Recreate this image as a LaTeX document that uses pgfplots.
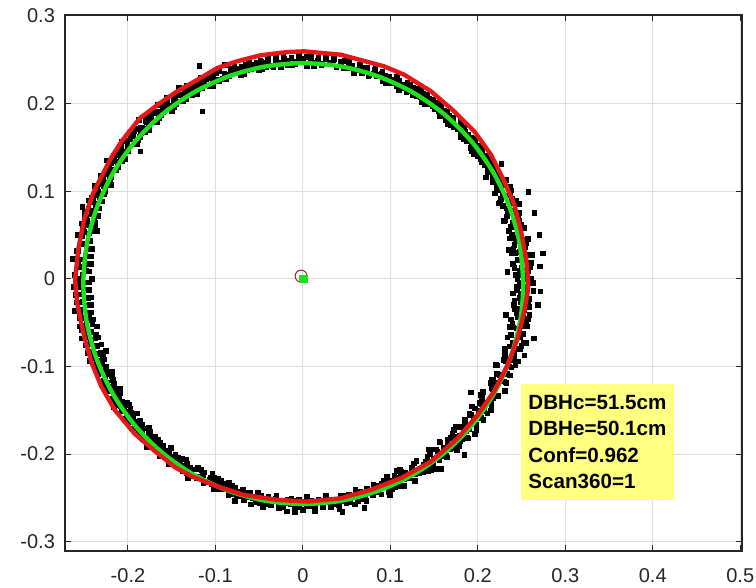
\documentclass[border=0pt]{standalone}
\usepackage{fontspec}
\setmainfont{Liberation Sans}
\usepackage{pgfplots}
\usepackage{pgfplotstable}
\pgfplotsset{compat=1.18}

\definecolor{axgray}{rgb}{0.15,0.15,0.15}
\definecolor{fitred}{RGB}{228,24,24}
\definecolor{fitgreen}{RGB}{30,225,30}
\definecolor{boxyellow}{RGB}{255,255,128}
\definecolor{gridgray}{RGB}{223,223,223}

% stem slice: scan points, angle (deg) and three ranges (m) from the scanner
\pgfplotstableread[row sep=\\]{
a r1 r2 r3\\
0 .255 .245 .261\\ 1 .243 .254 .246\\ 2 .258 .248 .256\\ 3 .250 .260 .242\\ 4 .261 .241 .259\\ 5 .246 .255 .249\\ 6 .252 .259 .263\\ 7 .241 .250 .244\\ 8 .255 .243 .257\\ 9 .258 .252 .245\\
10 .247 .261 .260\\ 11 .251 .245 .241\\ 12 .244 .254 .254\\ 13 .259 .242 .260\\ 14 .248 .257 .245\\ 15 .256 .248 .255\\ 16 .239 .256 .241\\ 17 .252 .244 .258\\ 18 .246 .252 .248\\ 19 .261 .247 .262\\
20 .253 .259 .243\\ 21 .241 .240 .256\\ 22 .256 .254 .244\\ 23 .248 .257 .258\\ 24 .259 .248 .240\\ 25 .246 .245 .252\\ 26 .250 .249 .258\\ 27 .244 .253 .243\\ 28 .250 .246 .253\\ 29 .252 .250 .239\\
30 .246 .244 .253\\ 31 .248 .251 .247\\ 32 .245 .247 .255\\ 33 .252 .250 .244\\ 34 .247 .245 .252\\ 35 .250 .249 .244\\ 36 .242 .246 .253\\ 37 .248 .252 .242\\ 38 .245 .243 .250\\ 39 .252 .249 .254\\
40 .249 .251 .245\\ 41 .243 .247 .251\\ 42 .250 .244 .242\\ 43 .247 .248 .252\\ 44 .251 .252 .246\\ 45 .244 .245 .255\\ 46 .247 .248 .243\\ 47 .242 .243 .251\\ 48 .249 .250 .244\\ 49 .250 .246 .252\\
50 .247 .251 .243\\ 51 .249 .246 .251\\ 52 .245 .250 .255\\ 53 .252 .247 .246\\ 54 .247 .253 .252\\ 55 .251 .244 .243\\ 56 .243 .250 .254\\ 57 .249 .252 .247\\ 58 .246 .248 .256\\ 59 .253 .245 .244\\
60 .250 .248 .252\\ 61 .244 .253 .245\\ 62 .251 .246 .254\\ 63 .248 .249 .242\\ 64 .252 .244 .251\\ 65 .246 .251 .254\\ 66 .249 .247 .245\\ 67 .243 .250 .251\\ 68 .250 .245 .243\\ 69 .251 .249 .253\\
70 .246 .247 .247\\ 71 .248 .252 .255\\ 72 .245 .243 .244\\ 73 .252 .250 .252\\ 74 .247 .251 .244\\ 75 .250 .247 .253\\ 76 .243 .244 .242\\ 77 .249 .248 .250\\ 78 .246 .252 .254\\ 79 .253 .245 .245\\
80 .250 .251 .252\\ 81 .244 .245 .244\\ 82 .252 .253 .254\\ 83 .248 .247 .248\\ 84 .254 .252 .256\\ 85 .246 .245 .245\\ 86 .249 .250 .253\\ 87 .243 .247 .245\\ 88 .251 .253 .254\\ 89 .253 .243 .243\\
90 .247 .250 .251\\ 91 .249 .253 .255\\ 92 .245 .248 .246\\ 93 .253 .244 .252\\ 94 .247 .249 .244\\ 95 .252 .254 .254\\ 96 .243 .246 .248\\ 97 .250 .251 .256\\ 98 .246 .244 .245\\ 99 .255 .252 .253\\
100 .250 .247 .245\\ 101 .244 .252 .254\\ 102 .252 .245 .243\\ 103 .248 .250 .251\\ 104 .254 .247 .255\\ 105 .246 .253 .246\\ 106 .249 .243 .252\\ 107 .243 .251 .244\\ 108 .251 .253 .254\\ 109 .253 .248 .248\\
110 .248 .246 .260\\ 111 .250 .251 .244\\ 112 .246 .255 .255\\ 113 .255 .247 .245\\ 114 .249 .252 .257\\ 115 .253 .245 .242\\ 116 .244 .254 .253\\ 117 .251 .249 .258\\ 118 .248 .253 .246\\ 119 .256 .247 .254\\
120 .252 .251 .243\\ 121 .245 .249 .257\\ 122 .254 .255 .249\\ 123 .250 .245 .260\\ 124 .256 .253 .245\\ 125 .247 .255 .255\\ 126 .251 .250 .246\\ 127 .245 .246 .258\\ 128 .253 .251 .243\\ 129 .255 .256 .254\\
130 .249 .248 .259\\ 131 .251 .253 .247\\ 132 .247 .246 .255\\ 133 .256 .254 .244\\ 134 .250 .249 .258\\ 135 .254 .253 .250\\ 136 .245 .247 .261\\ 137 .252 .253 .246\\ 138 .249 .250 .256\\ 139 .257 .256 .247\\
140 .253 .246 .259\\ 141 .247 .254 .244\\ 142 .255 .256 .255\\ 143 .251 .250 .260\\ 144 .257 .247 .248\\ 145 .249 .252 .256\\ 146 .252 .258 .245\\ 147 .246 .249 .258\\ 148 .254 .253 .250\\ 149 .256 .247 .262\\
150 .250 .256 .247\\ 151 .252 .251 .257\\ 152 .249 .255 .248\\ 153 .257 .248 .260\\ 154 .251 .254 .244\\ 155 .255 .251 .256\\ 156 .247 .257 .261\\ 157 .254 .247 .249\\ 158 .250 .255 .257\\ 159 .259 .257 .246\\
160 .256 .252 .261\\ 161 .246 .247 .251\\ 162 .258 .253 .265\\ 163 .252 .261 .245\\ 164 .260 .248 .258\\ 165 .248 .255 .246\\ 166 .253 .245 .261\\ 167 .244 .258 .242\\ 168 .256 .250 .256\\ 169 .258 .257 .262\\
170 .249 .247 .247\\ 171 .252 .254 .257\\ 172 .246 .249 .243\\ 173 .259 .260 .260\\ 174 .250 .244 .250\\ 175 .256 .255 .264\\ 176 .243 .258 .245\\ 177 .253 .251 .258\\ 178 .248 .245 .246\\ 179 .261 .252 .260\\
180 .254 .260 .241\\ 181 .244 .247 .256\\ 182 .257 .254 .262\\ 183 .251 .245 .247\\ 184 .260 .257 .257\\ 185 .247 .250 .243\\ 186 .253 .256 .260\\ 187 .244 .246 .250\\ 188 .255 .254 .264\\ 189 .258 .249 .245\\
190 .248 .259 .258\\ 191 .252 .244 .246\\ 192 .246 .255 .261\\ 193 .259 .258 .242\\ 194 .250 .251 .256\\ 195 .256 .245 .262\\ 196 .243 .252 .247\\ 197 .253 .260 .256\\ 198 .248 .247 .242\\ 199 .260 .254 .259\\
200 .253 .246 .250\\ 201 .245 .254 .261\\ 202 .254 .250 .245\\ 203 .250 .253 .256\\ 204 .256 .247 .246\\ 205 .248 .252 .258\\ 206 .251 .249 .243\\ 207 .245 .255 .254\\ 208 .253 .246 .259\\ 209 .255 .253 .247\\
210 .249 .256 .255\\ 211 .251 .250 .244\\ 212 .247 .248 .258\\ 213 .256 .252 .250\\ 214 .250 .257 .261\\ 215 .254 .248 .246\\ 216 .245 .253 .256\\ 217 .252 .247 .247\\ 218 .249 .255 .259\\ 219 .258 .250 .244\\
220 .253 .255 .255\\ 221 .247 .248 .260\\ 222 .255 .253 .248\\ 223 .251 .250 .256\\ 224 .257 .256 .245\\ 225 .249 .247 .259\\ 226 .253 .254 .251\\ 227 .247 .256 .262\\ 228 .255 .252 .247\\ 229 .256 .248 .257\\
230 .250 .253 .248\\ 231 .252 .258 .260\\ 232 .249 .250 .245\\ 233 .257 .254 .256\\ 234 .251 .248 .261\\ 235 .256 .257 .249\\ 236 .247 .251 .257\\ 237 .254 .256 .246\\ 238 .250 .249 .259\\ 239 .259 .253 .251\\
240 .255 .251 .263\\ 241 .248 .258 .247\\ 242 .256 .247 .258\\ 243 .252 .255 .248\\ 244 .258 .257 .260\\ 245 .250 .253 .245\\ 246 .254 .249 .256\\ 247 .248 .253 .261\\ 248 .256 .259 .249\\ 249 .257 .250 .257\\
250 .252 .255 .247\\ 251 .254 .250 .261\\ 252 .251 .258 .253\\ 253 .259 .254 .265\\ 254 .255 .258 .250\\ 255 .258 .253 .261\\ 256 .251 .257 .252\\ 257 .257 .255 .264\\ 258 .254 .260 .249\\ 259 .261 .252 .260\\
260 .258 .259 .265\\ 261 .252 .260 .253\\ 262 .259 .256 .261\\ 263 .255 .253 .249\\ 264 .261 .257 .263\\ 265 .254 .262 .255\\ 266 .257 .253 .266\\ 267 .252 .258 .251\\ 268 .258 .253 .261\\ 269 .260 .259 .252\\
270 .255 .256 .264\\ 271 .257 .259 .249\\ 272 .253 .254 .260\\ 273 .261 .257 .265\\ 274 .255 .256 .253\\ 275 .259 .260 .261\\ 276 .251 .252 .249\\ 277 .258 .259 .263\\ 278 .254 .260 .255\\ 279 .261 .256 .266\\
280 .258 .253 .251\\ 281 .252 .257 .261\\ 282 .259 .261 .252\\ 283 .256 .254 .264\\ 284 .261 .258 .248\\ 285 .254 .252 .260\\ 286 .256 .259 .264\\ 287 .251 .254 .252\\ 288 .257 .258 .259\\ 289 .258 .252 .248\\
290 .251 .256 .262\\ 291 .254 .250 .252\\ 292 .248 .262 .266\\ 293 .261 .245 .247\\ 294 .252 .258 .260\\ 295 .259 .261 .248\\ 296 .244 .253 .263\\ 297 .256 .247 .244\\ 298 .250 .255 .258\\ 299 .264 .263 .264\\
300 .257 .249 .249\\ 301 .246 .256 .259\\ 302 .260 .245 .245\\ 303 .253 .259 .262\\ 304 .263 .252 .252\\ 305 .248 .259 .265\\ 306 .254 .247 .246\\ 307 .244 .255 .259\\ 308 .257 .250 .247\\ 309 .260 .261 .262\\
310 .251 .244 .243\\ 311 .253 .257 .257\\ 312 .247 .260 .263\\ 313 .261 .252 .248\\ 314 .251 .246 .258\\ 315 .258 .254 .244\\ 316 .243 .262 .261\\ 317 .255 .248 .251\\ 318 .249 .256 .265\\ 319 .263 .245 .246\\
320 .256 .259 .259\\ 321 .245 .251 .247\\ 322 .259 .258 .262\\ 323 .251 .246 .242\\ 324 .261 .254 .256\\ 325 .247 .249 .262\\ 326 .253 .260 .247\\ 327 .243 .244 .257\\ 328 .256 .257 .243\\ 329 .259 .260 .260\\
330 .249 .251 .250\\ 331 .252 .245 .264\\ 332 .246 .253 .245\\ 333 .260 .261 .258\\ 334 .250 .247 .246\\ 335 .257 .255 .261\\ 336 .241 .243 .242\\ 337 .254 .259 .256\\ 338 .248 .250 .262\\ 339 .263 .258 .247\\
340 .256 .246 .257\\ 341 .244 .255 .244\\ 342 .259 .249 .261\\ 343 .252 .261 .251\\ 344 .263 .243 .265\\ 345 .247 .257 .246\\ 346 .254 .260 .259\\ 347 .243 .251 .247\\ 348 .257 .245 .262\\ 349 .260 .254 .242\\
350 .249 .262 .256\\ 351 .252 .247 .262\\ 352 .245 .255 .247\\ 353 .261 .243 .257\\ 354 .250 .259 .243\\ 355 .257 .249 .260\\ 356 .241 .256 .250\\ 357 .254 .245 .264\\ 358 .247 .253 .245\\ 359 .263 .248 .258\\
}\ring

% isolated returns away from the stem surface
\pgfplotstableread[row sep=\\]{
a r\\
2 .234\\ 3 .271\\ 6 .276\\ 8 .238\\ 10.5 .275\\ 15.8 .275\\ 21 .276\\ 30 .262\\
116 .270\\ 121 .223\\ 142 .236\\ 175.8 .273\\ 181 .273\\ 200 .240\\
268 .266\\ 279.6 .270\\ 285 .271\\ 306 .268\\ 306.5 .242\\ 312.5 .273\\ 326 .232\\
341 .268\\ 345.6 .273\\ 350 .236\\ 353.7 .270\\ 357 .272\\
}\stray

\begin{document}
\begin{tikzpicture}
\begin{axis}[
  scale only axis,
  width=338.5pt, height=268pt,
  xmin=-0.272, xmax=0.502, ymin=-0.3106, ymax=0.301,
  xtick={-0.2,-0.1,0,0.1,0.2,0.3,0.4,0.5},
  ytick={-0.3,-0.2,-0.1,0,0.1,0.2,0.3},
  grid=major,
  major grid style={gridgray, line width=0.5pt},
  tick align=inside,
  major tick length=3pt,
  tick style={axgray, line width=0.5pt},
  axis line style={axgray, line width=0.6pt},
  clip marker paths=true,
  /pgf/number format/assume math mode=true,
  ticklabel style={font=\fontsize{10}{12}\selectfont, text=axgray},
  xticklabel style={yshift=-5pt},
  yticklabel style={xshift=-1.5pt},
  scan/.style={only marks, data cs=polar, mark=square*, mark size=1.15pt,
    mark options={draw=black, fill=black}},
]

% scan points
\addplot[scan] table[x=a, y=r1] {\ring};
\addplot[scan] table[x=a, y=r2] {\ring};
\addplot[scan] table[x=a, y=r3] {\ring};
\addplot[scan] table[x=a, y=r] {\stray};

% fitted circle (green)
\addplot[fitgreen, line width=2.2pt, smooth, no marks] coordinates {
(0.2520,-0.0055) (0.2482,0.0382) (0.2368,0.0805) (0.2183,0.1203) (0.1932,0.1562)
(0.1622,0.1872) (0.1263,0.2123) (0.0865,0.2308) (0.0442,0.2422) (0.0005,0.2460)
(-0.0432,0.2422) (-0.0855,0.2308) (-0.1253,0.2123) (-0.1612,0.1872) (-0.1922,0.1562)
(-0.2173,0.1203) (-0.2358,0.0805) (-0.2472,0.0382) (-0.2510,-0.0055) (-0.2472,-0.0492)
(-0.2358,-0.0915) (-0.2173,-0.1313) (-0.1922,-0.1672) (-0.1612,-0.1982) (-0.1253,-0.2233)
(-0.0855,-0.2418) (-0.0432,-0.2532) (0.0005,-0.2570) (0.0442,-0.2532) (0.0865,-0.2418)
(0.1263,-0.2233) (0.1622,-0.1982) (0.1932,-0.1672) (0.2183,-0.1313) (0.2368,-0.0915)
(0.2482,-0.0492) (0.2520,-0.0055) (0.2482,0.0382)
};

% outline traced along the points (red)
\addplot[fitred, line width=2.2pt, line join=round, no marks] coordinates {
(0.2577,-0.0031) (0.2551,0.0235) (0.2494,0.0540) (0.2417,0.0845) (0.2302,0.1111)
(0.2150,0.1416) (0.1959,0.1682) (0.1730,0.1910) (0.1463,0.2140) (0.1157,0.2329)
(0.0928,0.2424) (0.0432,0.2557) (0.0011,0.2595) (-0.0179,0.2587) (-0.0485,0.2550)
(-0.0751,0.2482) (-0.0981,0.2404) (-0.1172,0.2290) (-0.1439,0.2138) (-0.1634,0.2005)
(-0.1863,0.1833) (-0.2068,0.1575) (-0.2190,0.1384) (-0.2295,0.1183) (-0.2401,0.0969)
(-0.2500,0.0679) (-0.2567,0.0347) (-0.2604,-0.0011) (-0.2584,-0.0259) (-0.2538,-0.0487)
(-0.2493,-0.0684) (-0.2418,-0.0953) (-0.2306,-0.1225) (-0.2152,-0.1495) (-0.1924,-0.1767)
(-0.1695,-0.1965) (-0.1459,-0.2153) (-0.1261,-0.2259) (-0.0987,-0.2366) (-0.0676,-0.2466)
(-0.0293,-0.2523) (0.0050,-0.2542) (0.0432,-0.2505) (0.0775,-0.2409) (0.1119,-0.2276)
(0.1463,-0.2086) (0.1769,-0.1820) (0.1998,-0.1553) (0.2188,-0.1282) (0.2341,-0.0982)
(0.2456,-0.0678) (0.2531,-0.0373) (0.2570,-0.0145) (0.2577,-0.0031) (0.2551,0.0235)
};

% centres
\addplot[only marks, mark=o, mark size=3pt,
  mark options={draw=fitred!85!black, line width=0.5pt}] coordinates {(-0.002,0.003)};
\addplot[only marks, mark=square*, mark size=1.8pt,
  mark options={draw=fitgreen, fill=fitgreen}] coordinates {(0.0005,-0.0005)};

\node[anchor=north west, fill=boxyellow, inner xsep=3.5pt, inner ysep=5.5pt,
  text width=69.5pt, align=left,
  font=\bfseries\fontsize{10.3}{13.3}\selectfont]
  at (axis cs:0.2494,-0.1195) {DBHc=51.5cm\\DBHe=50.1cm\\Conf=0.962\\Scan360=1};
\end{axis}
\pgfresetboundingbox
\path[use as bounding box] ([xshift=-32.5pt,yshift=-18.5pt]current axis.south west)
  rectangle ++(378pt,294pt);
\end{tikzpicture}
\end{document}
